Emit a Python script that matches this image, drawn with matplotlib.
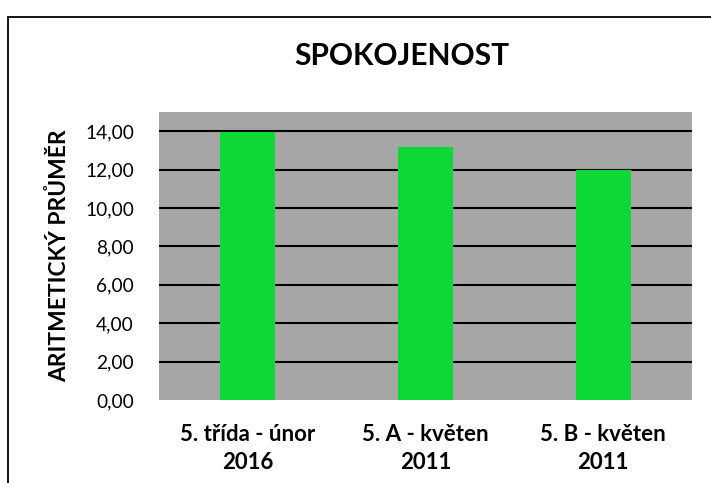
import matplotlib.pyplot as plt
from matplotlib.patches import Rectangle

categories = ["5. třída - únor\n2016", "5. A - květen\n2011", "5. B - květen\n2011"]
values = [13.97, 13.16, 12.0]
yticks = [0, 2, 4, 6, 8, 10, 12, 14]

plt.rcParams["font.family"] = ["Lato", "DejaVu Sans"]

W, H = 711, 483
fig = plt.figure(figsize=(W / 100, H / 100), dpi=100)

# chart frame (cropped at right and bottom like the reference)
fig.patches.append(Rectangle((8 / W, -0.05), 1.1, 1 - 17 / H + 0.05,
                             transform=fig.transFigure, fill=False,
                             edgecolor="black", linewidth=1.3))

ax = fig.add_axes([159 / W, (H - 400) / H, (692 - 159) / W, (400 - 112) / H])
ax.set_facecolor("#a6a6a6")
x = range(len(categories))
ax.bar(x, values, width=0.31, color="#0ed836", zorder=3)
ax.set_xlim(-0.5, len(categories) - 0.5)
ax.set_ylim(0, 15)
ax.set_yticks(yticks, [f"{v:.2f}".replace(".", ",") for v in yticks])
for v in yticks[1:]:
    ax.axhline(v, color="black", linewidth=1.5, zorder=2)
ax.set_xticks(list(x), categories, fontweight="bold", fontsize=16,
              linespacing=1.45)
ax.tick_params(axis="y", length=0, labelsize=13.8, pad=18)
ax.tick_params(axis="x", length=0, pad=17)
for s in ax.spines.values():
    s.set_visible(False)

ax.set_ylabel("ARITMETICKÝ PRŮMĚR", fontsize=16.4, fontweight="bold",
              va="center")
ax.yaxis.set_label_coords((59 - 159) / 533, 0.5)
fig.text(402 / W, 1 - 56 / H, "SPOKOJENOST", ha="center", va="center",
         fontsize=21.5, fontweight="bold")

fig.savefig("out.png", dpi=100)
